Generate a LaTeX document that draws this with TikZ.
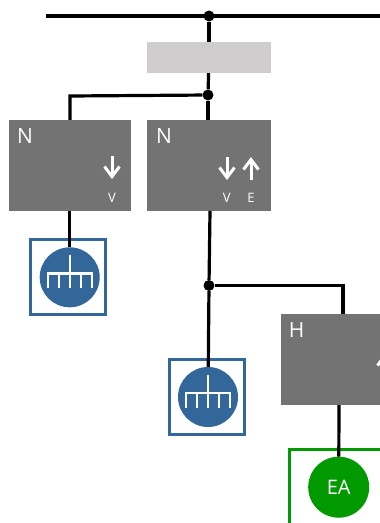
\documentclass[tikz,border=0pt]{standalone}
\usepackage{fontspec}
\setmainfont{Open Sans}
\usetikzlibrary{arrows.meta}
\tikzset{
  unitbox/.style={fill=boxgrey,minimum width=#1,minimum height=91pt,inner sep=0pt},
  unitname/.style={text=white,font=\fontsize{21}{21}\selectfont,inner sep=0pt},
  flowname/.style={text=white,font=\fontsize{13}{13}\selectfont,inner sep=0pt},
  flow/.style={white,line width=3pt,-{Straight Barb[length=10pt,width=15pt,line width=3pt]}},
  wire/.style={line width=3.2pt},
  junction/.style={circle,fill=black,minimum size=11pt,inner sep=0pt},
  loadframe/.style={draw=loadblue,line width=2.6pt,fill=white,minimum size=75pt,inner sep=0pt},
  loaddisc/.style={circle,fill=loadblue,minimum size=60pt,inner sep=0pt},
  earth/.pic={
    \draw[white,line width=2.4pt] (0,-22) -- (0,11);
    \draw[white,line width=2.4pt] (-22,11) -- (-22,-4) -- (22,-4) -- (22,11);
    \foreach \tooth in {-11,0,11} {
      \draw[white,line width=2.4pt] (\tooth,-4) -- (\tooth,11);
    }
  }
}
\definecolor{boxgrey}{HTML}{737373}
\definecolor{barlight}{HTML}{CFCDCE}
\definecolor{loadblue}{HTML}{336699}
\definecolor{sourcegreen}{HTML}{009900}
\begin{document}
\begin{tikzpicture}[x=1pt,y=-1pt]
\useasboundingbox (0,0) rectangle (380,523);
\coordinate (busL) at (46,16);
\coordinate (busR) at (380,16);
\coordinate (bendL) at (70,96);
\coordinate (bendR) at (343,285.5);

% The boxes
\node[fill=barlight,minimum width=124pt,minimum height=31pt,inner sep=0pt] (bar) at (209,57.5) {};
\node[unitbox=122pt] (unitA) at (70,165.5) {};
\node[unitbox=124pt] (unitB) at (209,165.5) {};
\node[unitbox=124pt] (unitC) at (343,359.5) {};

\node[loadframe] (frameA) at (67.8,277) {};
\node[loadframe] (frameB) at (207,397) {};
\node[draw=sourcegreen,line width=2.6pt,fill=white,minimum width=124pt,minimum height=74.6pt,inner sep=0pt] (frameC) at (351.5,486.8) {};
\node[loaddisc] (discA) at (69.7,277.3) {};
\node[loaddisc] (discB) at (208,397) {};
\node[circle,fill=sourcegreen,minimum size=61pt,inner sep=0pt,text=white,font=\fontsize{20}{20}\selectfont] (discC) at (338.7,487.2) {EA};

% The junctions
\node[junction] (topJ) at (209,16) {};
\node[junction] (midJ) at (208,95) {};
\node[junction] (lowJ) at (209,285.5) {};

% The wires
\draw[wire] (busL) -- (busR);
\draw[wire] (topJ) -- (bar);
\draw[wire] (bar) -- (midJ);
\draw[wire] (midJ) -- (midJ |- unitB.north);
\draw[wire] (midJ) -- (bendL) -- (bendL |- unitA.north);
\draw[wire] (unitA.south -| discA) -- (discA);
\draw[wire] (210,211) -- (lowJ);
\draw[wire] (lowJ) -- (discB);
\draw[wire] (lowJ) -- (bendR) -- (bendR |- unitC.north);
\draw[wire] (339,405) -- (discC);

% The symbols
\pic at (discA) {earth};
\pic at (discB) {earth};

% The texts
\node[unitname] (nameA) at (25,136) {N};
\node[unitname] (nameB) at (164,136) {N};
\node[unitname] (nameC) at (296.5,330) {H};
\node[flowname] (flowA) at (112,198) {V};
\node[flowname] (flowB) at (226.7,198) {V};
\node[flowname] (flowE) at (251,198) {E};

% The flow arrows
\coordinate (a1) at (112,156);
\coordinate (a2) at (112,179);
\coordinate (b1) at (227,157);
\coordinate (b2) at (227,180);
\coordinate (e1) at (251,180);
\coordinate (e2) at (251,157);
\coordinate (h1) at (385,376);
\coordinate (h2) at (385,353);
\draw[flow] (a1) -- (a2);
\draw[flow] (b1) -- (b2);
\draw[flow] (e1) -- (e2);
\draw[flow] (h1) -- (h2);
\end{tikzpicture}
\end{document}
